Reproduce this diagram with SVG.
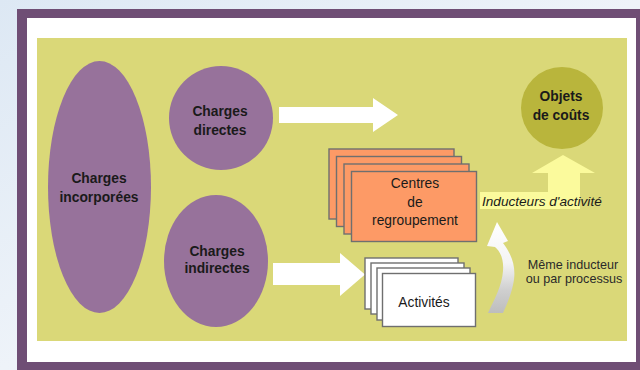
<svg xmlns="http://www.w3.org/2000/svg" width="640" height="370" viewBox="0 0 640 370">
  <defs>
    <linearGradient id="page" x1="0" y1="0" x2="1" y2="1">
      <stop offset="0" stop-color="#dde8f4"/>
      <stop offset="0.5" stop-color="#eef3f9"/>
      <stop offset="1" stop-color="#dfe9f5"/>
    </linearGradient>
    <linearGradient id="curveFill" x1="0" y1="0" x2="0" y2="1">
      <stop offset="0" stop-color="#ffffff"/>
      <stop offset="0.45" stop-color="#f4f4f4"/>
      <stop offset="0.75" stop-color="#cfcfcf"/>
      <stop offset="1" stop-color="#bdbdbd"/>
    </linearGradient>
    <style>
      .lbl { font-family: "Liberation Sans", Arial, sans-serif; fill: #1a1a1a; text-anchor: middle; }
      .bold { font-weight: bold; font-size: 13.8px; }
      .reg { font-size: 13.8px; }
      .small { font-size: 12.6px; fill: #2a2a2a; }
      .ital { font-style: italic; font-size: 13.6px; text-anchor: start; }
      .purple { fill: #97729b; }
      .orange { fill: #fd9a66; stroke: #6f6f6f; stroke-width: 1.4; }
      .sheet { fill: #ffffff; stroke: #6f6f6f; stroke-width: 1.4; }
      .flow { fill: #ffffff; }
    </style>
  </defs>

  <!-- page, frame and panels -->
  <rect x="0" y="0" width="640" height="370" fill="url(#page)"/>
  <rect x="17" y="9" width="623" height="361" fill="#6f4e75"/>
  <rect x="27" y="18" width="609" height="344" fill="#ffffff"/>
  <rect x="37" y="38" width="590" height="303" fill="#dad878"/>

  <!-- connectors -->
  <g id="connectors">
    <polygon class="flow" points="279,107 373,107 373,98 398,115 373,132 373,123 279,123"/>
    <polygon class="flow" points="273,263 340,263 340,253 365,274.5 340,296 340,285 273,285"/>
    <g id="inducteurs">
      <polygon fill="#fbfa9c" points="563,155 595,173 580,173 580,209 480,209 480,192 548,192 548,173 532,173"/>
      <text class="lbl ital" x="482" y="206">Inducteurs d'activité</text>
    </g>
    <path fill="url(#curveFill)" d="M497,222 L508,241 L503,243 C512,255 517,268 513,285 C510,298 506,306 503,313 L488,313 C494,300 502,286 503,271 C504,259 500,251 495,247 L487,246 Z"/>
  </g>

  <!-- nodes -->
  <g id="charges-incorporees">
    <ellipse class="purple" cx="99.5" cy="187" rx="51.5" ry="126"/>
    <text class="lbl bold" x="99" y="183">Charges</text>
    <text class="lbl bold" x="99" y="202">incorporées</text>
  </g>

  <g id="charges-directes">
    <circle class="purple" cx="221" cy="118" r="52"/>
    <text class="lbl bold" x="220" y="116">Charges</text>
    <text class="lbl bold" x="220" y="135">directes</text>
  </g>

  <g id="charges-indirectes">
    <ellipse class="purple" cx="216" cy="261" rx="52" ry="66"/>
    <text class="lbl bold" x="217" y="256">Charges</text>
    <text class="lbl bold" x="217" y="273">indirectes</text>
  </g>

  <g id="centres-regroupement">
    <rect class="orange" x="329" y="149" width="125" height="70"/>
    <rect class="orange" x="336.5" y="156.5" width="125" height="70"/>
    <rect class="orange" x="344" y="164" width="125" height="70"/>
    <rect class="orange" x="351.5" y="171.5" width="125" height="70"/>
    <text class="lbl reg" x="415" y="188">Centres</text>
    <text class="lbl reg" x="415" y="207">de</text>
    <text class="lbl reg" x="415" y="225">regroupement</text>
  </g>

  <g id="activites">
    <rect class="sheet" x="365" y="258" width="93" height="51"/>
    <rect class="sheet" x="371" y="263" width="93" height="51"/>
    <rect class="sheet" x="377" y="268" width="93" height="52"/>
    <rect class="sheet" x="382.5" y="273.5" width="93" height="53"/>
    <text class="lbl reg" x="424" y="307">Activités</text>
  </g>

  <g id="objets-couts">
    <circle fill="#b9b53c" cx="562" cy="108" r="41"/>
    <text class="lbl bold" x="561" y="101">Objets</text>
    <text class="lbl bold" x="561" y="120">de coûts</text>
  </g>

  <g id="meme-inducteur">
    <text class="lbl small" x="573" y="269">Même inducteur</text>
    <text class="lbl small" x="574" y="283">ou par processus</text>
  </g>
</svg>
